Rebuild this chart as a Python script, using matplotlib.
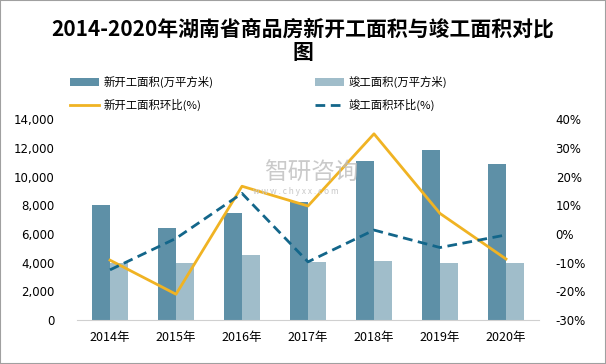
import matplotlib
matplotlib.use("Agg")
import matplotlib.pyplot as plt
import numpy as np
from matplotlib.patches import Rectangle
from matplotlib.ticker import FuncFormatter, FixedLocator

plt.rcParams["font.family"] = ["Noto Sans CJK SC", "DejaVu Sans"]
plt.rcParams["axes.unicode_minus"] = False

# 数据
years = ["2014年", "2015年", "2016年", "2017年", "2018年", "2019年", "2020年"]
new_start = [8050, 6400, 7500, 8250, 11100, 11900, 10900]
completed = [3950, 4000, 4550, 4050, 4150, 4000, 4000]
new_start_ratio = [-9.1, -21.0, 16.7, 9.8, 35.0, 7.2, -8.7]
completed_ratio = [-12.5, -1.5, 14.2, -9.7, 1.4, -4.7, -0.3]

title = "2014-2020年湖南省商品房新开工面积与竣工面积对比\n图"
labels = ["新开工面积(万平方米)", "竣工面积(万平方米)", "新开工面积环比(%)", "竣工面积环比(%)"]

c_dark = "#5E90A7"
c_light = "#A0BDCA"
c_orange = "#F0B323"
c_teal = "#13668A"

fig = plt.figure(figsize=(6.06, 3.64), dpi=100)
ax = fig.add_axes([77 / 606, 1 - 320 / 364, 462 / 606, 200.5 / 364])
ax2 = ax.twinx()

x = np.arange(len(years))
w = 0.28
b1 = ax.bar(x - w / 2, new_start, w, color=c_dark, zorder=2)
b2 = ax.bar(x + w / 2, completed, w, color=c_light, zorder=2)
l1, = ax2.plot(x, new_start_ratio, color=c_orange, lw=2.0, zorder=3)
l2, = ax2.plot(x, completed_ratio, color=c_teal, lw=2.0, ls=(0, (3.5, 2)), zorder=3)

ax.set_xlim(-0.5, len(years) - 0.5)
ax.set_ylim(0, 14000)
ax.yaxis.set_major_locator(FixedLocator(range(0, 14001, 2000)))
ax.yaxis.set_major_formatter(FuncFormatter(lambda v, p: f"{int(v):,}"))
ax2.set_ylim(-30, 40)
ax2.yaxis.set_major_locator(FixedLocator(range(-30, 41, 10)))
ax2.yaxis.set_major_formatter(FuncFormatter(lambda v, p: f"{int(v)}%"))

ax.set_xticks(x)
ax.set_xticklabels(years, fontsize=9)
for a in (ax, ax2):
    for s in ("top", "left", "right"):
        a.spines[s].set_visible(False)
    a.spines["bottom"].set_color("#D0D0D0")
    a.tick_params(length=0)
ax2.spines["bottom"].set_visible(False)
ax.tick_params(axis="x", pad=8)
ax.tick_params(axis="y", labelsize=8.5, pad=16)
ax2.tick_params(axis="y", labelsize=8.5, pad=12)
for t in ax.get_yticklabels() + ax2.get_yticklabels():
    t.set_family("DejaVu Sans")

# 水印
fig.text(264 / 606, 1 - 173 / 364, "智研咨询", fontsize=17, color="#BDBDBD",
         alpha=0.8, va="center", ha="left", zorder=0)
fig.text(296 / 606, 1 - 192 / 364, "w w w . c h y x x . c o m", fontsize=6,
         color="#C8C8C8", va="center", ha="center", zorder=0)

fig.text(0.5, 1 - 18 / 364, title, fontsize=15, fontweight="bold",
         ha="center", va="top", linespacing=1.15)

leg_kw = dict(loc="upper left", frameon=False, fontsize=8.2, borderpad=0,
              handlelength=2.6, handletextpad=0.4, labelspacing=0.95)
fig.legend([b1, l1], [labels[0], labels[2]], bbox_to_anchor=(64 / 606, 1 - 70 / 364), **leg_kw)
fig.legend([b2, l2], [labels[1], labels[3]], bbox_to_anchor=(309 / 606, 1 - 70 / 364), **leg_kw)

fig.add_artist(Rectangle((0, 0), 1, 1, transform=fig.transFigure, fill=False,
                         edgecolor="#A0A0A0", lw=1.5))

fig.savefig("out.png", dpi=100)
